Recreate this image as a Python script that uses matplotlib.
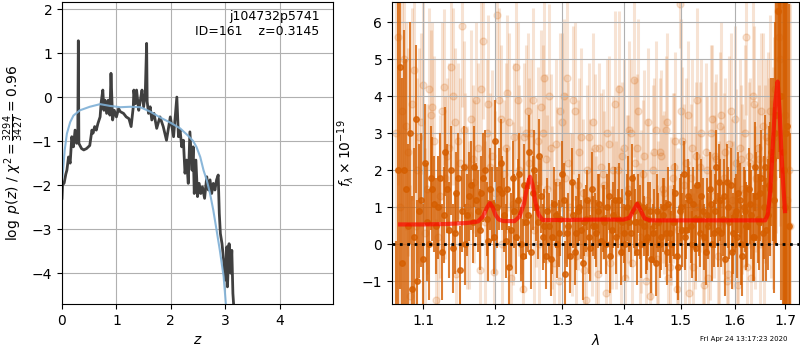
import numpy as np
import matplotlib
matplotlib.use('Agg')
import matplotlib.pyplot as plt
from matplotlib.ticker import NullLocator, FixedLocator, FixedFormatter

# p(z) curve (noisy) and smooth curve
z_pz = [0.00, 0.01, 0.04, 0.07, 0.09, 0.12, 0.15, 0.18, 0.21, 0.24,
        0.27, 0.29, 0.30, 0.31, 0.33, 0.36, 0.40, 0.45, 0.51, 0.55,
        0.57, 0.60, 0.63, 0.66, 0.70, 0.72, 0.75, 0.77, 0.79, 0.82,
        0.85, 0.88, 0.90, 0.93, 0.96, 1.00, 1.04, 1.07, 1.13, 1.18,
        1.23, 1.27, 1.31, 1.32, 1.35, 1.37, 1.41, 1.44, 1.47, 1.50,
        1.53, 1.555, 1.565, 1.59, 1.62, 1.65, 1.69, 1.74, 1.80, 1.86,
        1.92, 1.99, 2.05, 2.11, 2.14, 2.17, 2.20, 2.23, 2.26, 2.29,
        2.32, 2.35, 2.39, 2.41, 2.43, 2.46, 2.49, 2.52, 2.55, 2.58,
        2.62, 2.66, 2.69, 2.72, 2.75, 2.78, 2.81, 2.84, 2.87, 2.89,
        2.91, 2.94, 2.97, 3.00, 3.03, 3.04, 3.07, 3.10, 3.12, 3.14,
        3.16]
logp = [-2.30, -2.00, -1.95, -1.75, -1.66, -1.36, -1.50, -0.90, -1.13, -0.75,
        -1.05, -0.90, 1.28, -1.05, -1.10, -1.17, -1.20, -1.17, -1.10, -0.75,
        -0.82, -0.67, -0.75, -0.60, -0.45, -0.12, 0.16, -0.30, -0.07, -0.37,
        -0.07, -0.41, 0.54, -0.52, -0.30, -0.45, -0.26, -0.33, -0.37, -0.45,
        -0.49, -0.67, -0.22, 0.16, -0.15, 0.16, -0.30, -0.07, 0.16, -0.22,
        0.08, 1.22, -0.10, -0.37, -0.22, -0.52, -0.37, -0.71, -0.45, -0.67,
        -0.98, -0.45, -0.90, 0.00, -0.90, -0.75, -1.13, -0.98, -1.73, -1.43,
        -1.96, -0.79, -1.66, -1.13, -2.19, -1.43, -2.26, -1.96, -2.19, -2.04,
        -2.30, -1.81, -2.11, -1.88, -2.19, -1.96, -2.11, -1.88, -1.77, -2.64,
        -3.10, -3.33, -3.70, -4.16, -3.40, -4.31, -3.33, -4.00, -3.48, -4.46,
        -4.84]

z_smooth = [0.0, 0.02, 0.05, 0.09, 0.15, 0.21, 0.33, 0.51, 0.70, 0.88,
            1.07, 1.25, 1.44, 1.62, 1.80, 1.99, 2.17, 2.32, 2.41, 2.47,
            2.54, 2.60, 2.66, 2.72, 2.78, 2.84, 2.90, 2.97, 3.01, 3.05]
logp_smooth = [-1.90, -1.66, -1.20, -0.83, -0.57, -0.42, -0.30, -0.22, -0.16, -0.20,
               -0.23, -0.22, -0.23, -0.33, -0.46, -0.58, -0.71, -0.88, -1.00, -1.13,
               -1.36, -1.66, -1.89, -2.19, -2.57, -3.02, -3.48, -4.08, -4.69, -5.20]

# two wavelength grids (microns)
wave_a = [1.065, 1.070, 1.075, 1.080, 1.085, 1.090, 1.095, 1.100, 1.105, 1.110,
          1.115, 1.120, 1.125, 1.130, 1.135, 1.140, 1.145, 1.150, 1.155, 1.160,
          1.165, 1.170, 1.175, 1.180, 1.185, 1.190, 1.195, 1.200, 1.205, 1.210,
          1.215, 1.220, 1.225, 1.230, 1.235, 1.240, 1.245, 1.250, 1.255, 1.260,
          1.265, 1.270, 1.275, 1.280, 1.285, 1.290, 1.295, 1.300, 1.305, 1.310,
          1.315, 1.320, 1.325, 1.330, 1.335, 1.340, 1.345, 1.350, 1.355, 1.360,
          1.365, 1.370, 1.375, 1.380, 1.385, 1.390, 1.395, 1.400, 1.405, 1.410,
          1.415, 1.420, 1.425, 1.430, 1.435, 1.440, 1.445, 1.450, 1.455, 1.460,
          1.465, 1.470, 1.475, 1.480, 1.485, 1.490, 1.495, 1.500, 1.505, 1.510,
          1.515, 1.520, 1.525, 1.530, 1.535, 1.540, 1.545, 1.550, 1.555, 1.560,
          1.565, 1.570, 1.575, 1.580, 1.585, 1.590, 1.595, 1.600, 1.605, 1.610,
          1.615, 1.620, 1.625, 1.630, 1.635, 1.640, 1.645, 1.650, 1.655, 1.660,
          1.665, 1.670, 1.675, 1.680, 1.685, 1.690, 1.695, 1.700, 1.705, 1.710]
wave_b = [1.0675, 1.0725, 1.0775, 1.0825, 1.0875, 1.0925, 1.0975, 1.1025, 1.1075, 1.1125,
          1.1175, 1.1225, 1.1275, 1.1325, 1.1375, 1.1425, 1.1475, 1.1525, 1.1575, 1.1625,
          1.1675, 1.1725, 1.1775, 1.1825, 1.1875, 1.1925, 1.1975, 1.2025, 1.2075, 1.2125,
          1.2175, 1.2225, 1.2275, 1.2325, 1.2375, 1.2425, 1.2475, 1.2525, 1.2575, 1.2625,
          1.2675, 1.2725, 1.2775, 1.2825, 1.2875, 1.2925, 1.2975, 1.3025, 1.3075, 1.3125,
          1.3175, 1.3225, 1.3275, 1.3325, 1.3375, 1.3425, 1.3475, 1.3525, 1.3575, 1.3625,
          1.3675, 1.3725, 1.3775, 1.3825, 1.3875, 1.3925, 1.3975, 1.4025, 1.4075, 1.4125,
          1.4175, 1.4225, 1.4275, 1.4325, 1.4375, 1.4425, 1.4475, 1.4525, 1.4575, 1.4625,
          1.4675, 1.4725, 1.4775, 1.4825, 1.4875, 1.4925, 1.4975, 1.5025, 1.5075, 1.5125,
          1.5175, 1.5225, 1.5275, 1.5325, 1.5375, 1.5425, 1.5475, 1.5525, 1.5575, 1.5625,
          1.5675, 1.5725, 1.5775, 1.5825, 1.5875, 1.5925, 1.5975, 1.6025, 1.6075, 1.6125,
          1.6175, 1.6225, 1.6275, 1.6325, 1.6375, 1.6425, 1.6475, 1.6525, 1.6575, 1.6625,
          1.6675, 1.6725, 1.6775, 1.6825, 1.6875, 1.6925, 1.6975, 1.7025, 1.7075]

# dark spectrum, grid a
flux_dark = [-3.0, 4.8, 2.0, 0.5, -1.2, 3.4, 0.9, -0.4, 0.6, 1.8,
             1.1, 1.0, -0.2, 2.5, 0.4, -0.1, 1.4, -0.7, 2.1, 0.8,
             1.6, 2.1, 0.9, 1.4, 2.0, 0.1, 1.1, 2.8, 1.5, 1.4,
             0.1, -0.6, 1.8, 0.2, 1.9, -0.3, 0.6, 2.5, 1.4, 1.0,
             2.4, 0.2, -0.3, 0.5, 0.2, 0.8, 0.3, 1.9, -0.8, 0.5,
             1.7, -0.2, 0.9, 0.4, 0.6, 1.2, -0.1, 0.5, 0.3, 1.1,
             0.7, 0.0, 1.3, 0.4, 1.2, 0.7, -0.2, 0.3, 1.0, 0.6,
             1.8, 0.6, 1.1, 0.0, 0.5, 0.2, 0.9, 0.3, -0.5, 0.6,
             0.2, 1.0, -0.2, 0.3, 0.6, 1.4, -0.6, 1.0, 1.9, 0.4,
             1.2, 0.0, 0.7, 1.6, 0.3, 0.9, -0.2, 0.5, 1.1, 0.3,
             2.1, 1.7, 0.3, 1.3, 1.7, 0.6, -0.2, 0.8, 0.2, 1.2,
             -0.3, 0.9, 0.5, 1.1, 0.2, 2.1, 0.7, 1.4, 0.3, 2.1,
             0.8, 1.5, 2.3, 3.0, 6.3, 6.8, 2.5, 1.0, 3.2, -2.0]
err_dark = [3.1, 6.0, 3.8, 2.2, 2.5, 2.0, 1.8, 1.5, 1.6, 1.4,
            1.3, 1.4, 1.3, 1.2, 1.3, 1.2, 1.1, 1.2, 1.1, 1.1,
            1.2, 1.1, 1.1, 1.0, 1.1, 1.1, 1.0, 1.1, 1.1, 1.0,
            1.0, 1.1, 1.0, 1.0, 1.1, 1.0, 1.0, 1.0, 1.0, 0.9,
            1.0, 0.9, 0.9, 0.9, 1.0, 0.9, 0.9, 0.9, 0.9, 0.9,
            0.9, 0.9, 0.9, 0.8, 0.9, 0.8, 0.9, 0.8, 0.9, 0.8,
            0.9, 0.8, 0.9, 0.8, 0.9, 0.8, 0.9, 0.8, 0.9, 0.8,
            0.9, 0.9, 0.8, 0.9, 0.8, 0.9, 0.8, 0.8, 0.9, 0.8,
            0.9, 0.8, 0.9, 0.8, 0.9, 0.8, 0.9, 0.9, 0.9, 0.8,
            0.9, 0.9, 0.9, 0.9, 0.9, 0.9, 0.9, 0.9, 0.9, 0.9,
            1.0, 1.0, 0.9, 1.0, 1.0, 1.0, 1.0, 1.0, 1.1, 1.0,
            1.1, 1.1, 1.1, 1.1, 1.2, 1.2, 1.2, 1.3, 1.3, 1.4,
            1.5, 1.8, 2.2, 3.0, 4.0, 5.0, 6.0, 9.0, 8.0, 5.0]

# dark spectrum, grid b
flux_dark2 = [2.0, -0.5, 1.5, 3.0, 0.2, -1.0, 1.2, 2.2, 0.0, 1.5,
              0.5, 1.8, 0.8, 1.5, 2.0, 0.3, 1.8, 0.9, 0.0, 1.3,
              0.6, 1.2, 0.4, 1.8, 0.7, 1.5, 0.2, 1.0, 2.2, 0.8,
              1.5, 0.4, 0.9, 1.2, 0.0, 1.6, 0.8, -0.2, 2.0, 0.6,
              1.3, 0.5, 0.9, -0.4, 1.1, 0.0, 0.7, 1.2, 0.3, -0.3,
              0.8, 0.3, 1.0, -0.5, 0.7, 0.2, 1.5, 0.5, 0.9, 0.1,
              0.6, 1.0, -0.3, 0.8, 0.2, 1.2, 0.6, 0.0, 1.4, 0.3,
              0.9, -0.2, 0.6, 1.0, 0.1, 0.7, -0.4, 0.5, 0.9, 0.0,
              0.8, 0.3, 1.1, 0.0, 0.6, -0.3, 0.9, 0.4, 0.2, 1.3,
              0.5, 1.1, -0.1, 0.7, 1.3, 0.2, 0.8, 1.5, 0.0, 0.9,
              0.4, 1.2, 0.7, -0.4, 1.0, 1.6, 0.3, 0.9, 1.4, 0.0,
              1.0, 0.5, 1.5, 0.8, 0.2, 1.3, 0.6, 1.8, 1.0, 0.4,
              1.6, 2.5, 1.2, 3.5, 7.0, 4.0, 2.0, 3.0, 0.5]
err_dark2 = [7.0, 5.0, 3.5, 3.0, 2.4, 2.2, 1.8, 1.6, 1.5, 1.4,
             1.3, 1.2, 1.3, 1.2, 1.2, 1.1, 1.2, 1.1, 1.1, 1.2,
             1.1, 1.0, 1.1, 1.2, 1.0, 1.1, 1.0, 1.1, 1.2, 1.0,
             1.1, 1.0, 1.0, 1.1, 1.0, 1.1, 1.0, 1.0, 1.1, 1.0,
             1.0, 1.0, 0.9, 1.0, 1.0, 0.9, 1.0, 1.0, 0.9, 1.0,
             0.9, 1.0, 0.9, 1.0, 0.9, 1.0, 1.0, 0.9, 1.0, 0.9,
             1.0, 0.9, 1.0, 0.9, 1.0, 1.0, 0.9, 1.0, 1.0, 0.9,
             1.0, 0.9, 1.0, 1.0, 0.9, 1.0, 0.9, 1.0, 1.0, 0.9,
             1.0, 0.9, 1.0, 0.9, 1.0, 1.0, 0.9, 1.0, 0.9, 1.0,
             1.0, 1.0, 0.9, 1.0, 1.0, 0.9, 1.0, 1.0, 1.0, 1.0,
             1.0, 1.1, 1.0, 1.0, 1.1, 1.0, 1.1, 1.0, 1.1, 1.1,
             1.1, 1.2, 1.1, 1.2, 1.2, 1.2, 1.3, 1.3, 1.4, 1.4,
             1.6, 2.0, 2.5, 3.5, 4.5, 5.5, 7.0, 8.0, 6.0]

# light spectra (individual beams)
flux_light = [5.6, 3.6, 3.2, -1.4, 4.7, 2.0, 3.3, 0.3, 4.2, 3.7,
              -1.5, 1.3, 4.25, 2.4, 4.8, 3.3, 2.8, 5.9, 2.1, 0.8,
              2.3, 3.9, -0.7, 5.5, 3.0, 2.1, -0.75, 6.2, 3.4, 1.9,
              4.1, -0.9, 2.9, 3.9, 1.2, 2.9, 3.6, 3.0, 0.4, 2.8,
              3.7, 4.5, 1.5, 2.6, -0.5, 1.7, 3.6, 4.0, 4.5, 1.0,
              3.9, -0.3, 2.5, 1.4, -1.5, 2.9, 0.6, 2.6, -0.8, 2.1,
              1.6, 3.0, -0.5, 2.0, 0.8, 4.2, 2.4, -0.9, 1.5, 3.0,
              4.45, 2.6, 0.2, 1.9, -1.0, 3.3, 0.5, 2.5, -0.4, 2.5,
              1.5, 3.1, -0.9, 0.9, 2.1, -1.2, 6.5, 2.8, 0.3, 3.5,
              1.8, -0.6, 2.4, 1.0, 3.0, -1.1, 2.0, 0.5, 3.4, 2.4,
              -0.3, 3.2, 1.2, 2.5, -0.8, 3.6, 0.8, 2.2, -1.1, 2.3,
              1.4, 5.6, 2.4, -0.9, 3.8, 1.8, 2.3, 3.6, 0.2, 2.9,
              2.3, 1.5, 2.9, 3.5, 5.6, 6.5, 3.0, 1.0, 2.0]
err_light = [4.0, 3.0, 2.8, 3.0, 2.6, 2.5, 2.4, 2.3, 2.2, 2.3,
             2.2, 2.2, 2.1, 2.1, 2.2, 2.0, 2.1, 2.2, 2.0, 2.0,
             2.0, 2.1, 2.0, 2.1, 2.0, 2.0, 2.0, 2.2, 2.0, 2.0,
             2.1, 2.0, 2.0, 2.1, 2.0, 2.0, 2.1, 2.0, 2.0, 2.0,
             2.1, 2.1, 2.0, 2.0, 2.0, 2.0, 2.1, 2.1, 2.2, 2.0,
             2.0, 2.0, 2.0, 2.0, 2.0, 2.0, 2.0, 2.0, 2.0, 2.0,
             2.0, 2.0, 2.0, 2.0, 2.0, 2.1, 2.0, 2.0, 2.0, 2.0,
             2.1, 2.0, 2.0, 2.0, 2.0, 2.0, 2.0, 2.0, 2.0, 2.0,
             2.0, 2.0, 2.0, 2.0, 2.0, 2.0, 1.2, 2.0, 2.0, 2.0,
             2.0, 2.0, 2.0, 2.0, 2.0, 2.0, 2.0, 2.0, 2.0, 2.0,
             2.0, 2.0, 2.0, 2.0, 2.0, 2.1, 2.0, 2.0, 2.0, 2.0,
             2.0, 2.1, 2.0, 2.0, 2.1, 2.0, 2.0, 2.1, 2.0, 2.1,
             2.2, 2.4, 2.7, 3.2, 3.6, 4.0, 5.0, 6.0, 7.0]
flux_light2 = [3.0, 1.0, 5.0, 2.5, 3.8, 0.5, 2.9, 4.3, 1.5, 3.5,
               2.8, 0.2, 3.6, 1.8, 2.6, 4.0, -0.8, 2.2, 3.1, 1.0,
               3.4, 1.7, 2.6, 4.2, 0.6, 3.8, 2.4, 1.4, 3.9, 0.0,
               2.6, 3.3, 1.1, 4.8, 2.0, -1.2, 3.0, 2.2, 3.9, 1.6,
               0.0, 3.0, 2.3, 4.0, 1.0, 2.7, -1.0, 3.3, 1.8, 2.2,
               0.8, 3.6, 1.6, 2.9, -0.7, 2.0, 1.2, 3.3, 0.2, 2.6,
               1.9, -1.3, 2.7, 1.0, 3.8, 2.0, 0.4, 2.6, 1.3, 3.1,
               -0.5, 2.2, 3.6, 0.9, 2.4, 1.2, -1.4, 2.0, 3.1, 0.6,
               2.4, 1.4, 3.3, -0.6, 1.8, 2.8, 0.4, 3.6, 1.6, 2.2,
               -1.3, 2.6, 1.0, 3.9, 2.1, 0.2, 2.5, -0.9, 3.0, 1.3,
               2.3, 0.6, 3.5, 1.8, -1.0, 2.7, 1.2, 3.4, 0.1, 2.6,
               1.5, 3.0, -0.6, 2.2, 4.0, 1.0, 2.6, 0.0, 3.2, 1.9,
               2.8, 3.6, 1.8, 4.2, 6.3, 5.0, 2.0, 3.5, 1.2, 0.5]
err_light2 = [4.5, 3.5, 3.0, 2.8, 2.6, 2.5, 2.4, 2.4, 2.3, 2.3,
              2.3, 2.2, 2.4, 2.2, 2.3, 2.4, 2.2, 2.3, 2.4, 2.2,
              2.4, 2.2, 2.3, 2.5, 2.2, 2.4, 2.3, 2.2, 2.5, 2.2,
              2.3, 2.4, 2.2, 2.5, 2.3, 2.2, 2.4, 2.3, 2.5, 2.2,
              2.2, 2.4, 2.3, 2.5, 2.2, 2.3, 2.2, 2.4, 2.3, 2.2,
              2.2, 2.4, 2.3, 2.4, 2.2, 2.3, 2.2, 2.4, 2.2, 2.3,
              2.3, 2.2, 2.4, 2.2, 2.5, 2.3, 2.2, 2.4, 2.2, 2.4,
              2.2, 2.3, 2.5, 2.2, 2.3, 2.2, 2.2, 2.3, 2.4, 2.2,
              2.3, 2.2, 2.4, 2.2, 2.3, 2.4, 2.2, 2.5, 2.2, 2.3,
              2.2, 2.4, 2.2, 2.5, 2.3, 2.2, 2.4, 2.2, 2.4, 2.2,
              2.3, 2.2, 2.5, 2.3, 2.2, 2.4, 2.2, 2.5, 2.2, 2.4,
              2.3, 2.4, 2.2, 2.3, 2.6, 2.2, 2.4, 2.3, 2.5, 2.4,
              2.4, 2.6, 3.0, 3.5, 4.0, 4.5, 5.0, 6.0, 7.0, 6.0]

# best-fit model
wave_model = [1.070, 1.100, 1.130, 1.160, 1.175, 1.182, 1.188, 1.192, 1.196, 1.200,
              1.205, 1.212, 1.228, 1.235, 1.242, 1.247, 1.251, 1.255, 1.259, 1.264,
              1.270, 1.300, 1.350, 1.400, 1.410, 1.417, 1.423, 1.429, 1.436, 1.445,
              1.500, 1.550, 1.600, 1.660, 1.665, 1.670, 1.675, 1.680, 1.685, 1.689,
              1.693, 1.697, 1.700]
flux_model = [0.54, 0.54, 0.55, 0.58, 0.62, 0.75, 1.00, 1.12, 1.00, 0.80,
              0.67, 0.63, 0.63, 0.75, 1.10, 1.60, 1.83, 1.60, 1.15, 0.80,
              0.66, 0.66, 0.67, 0.67, 0.72, 0.93, 1.10, 0.92, 0.70, 0.65,
              0.65, 0.65, 0.65, 0.65, 0.80, 1.40, 2.60, 3.80, 4.40, 3.60,
              2.40, 1.50, 0.90]

wave_ticks = [1.1, 1.2, 1.3, 1.4, 1.5, 1.6, 1.7]
grism_color = (0.835, 0.369, 0.0)

fig = plt.figure(figsize=(8, 3.5), dpi=100)

# p(z)
ax = fig.add_axes([0.0775, 0.1314, 0.3388, 0.8629])
ax.plot(z_pz, logp, color='0.25', lw=2)
ax.plot(z_smooth, logp_smooth, color='#7fb0d6', lw=1.5, alpha=0.9)
ax.set_xlim(0, 4.98)
ax.set_ylim(-4.7, 2.16)
ax.set_xticks([0, 1, 2, 3, 4])
ax.set_xlabel('$z$')
ax.set_ylabel(r'$\log\ p(z)$' + ' / ' + r'$\chi^2=\frac{3294}{3427}=0.96$')
ax.grid()
ax.text(0.95, 0.975, 'j104732p5741\nID=161    z=0.3145', ha='right', va='top',
        transform=ax.transAxes, fontsize=9)

# spectrum
ax2 = fig.add_axes([0.49, 0.1314, 0.5088, 0.8629])
for w, f, e in [(wave_b, flux_light, err_light), (wave_a, flux_light2, err_light2)]:
    ax2.errorbar(w, f, yerr=e, color=grism_color, alpha=0.17, marker='o', ms=5,
                 linestyle='None', elinewidth=2.2, zorder=1)
for w, f, e in [(wave_a, flux_dark, err_dark), (wave_b, flux_dark2, err_dark2)]:
    ax2.errorbar(w, f, yerr=e, color=grism_color, alpha=0.8, marker='o', ms=4,
                 linestyle='None', elinewidth=1.5, zorder=2)
ax2.plot(wave_model, flux_model, color='r', alpha=0.65, lw=3, zorder=3)
ax2.axhline(0, color='k', linestyle=':', lw=2, zorder=4)
ax2.set_xscale('log')
ax2.xaxis.set_major_locator(FixedLocator(wave_ticks))
ax2.xaxis.set_major_formatter(FixedFormatter([str(w) for w in wave_ticks]))
ax2.xaxis.set_minor_locator(NullLocator())
ax2.set_xlim(1.0596, 1.729)
ax2.set_ylim(-1.61, 6.55)
ax2.set_xlabel(r'$\lambda$')
ax2.set_ylabel(r'$f_\lambda\times10^{-19}$')
ax2.grid()

fig.text(0.985, 0.03, 'Fri Apr 24 13:17:23 2020', ha='right', va='center', fontsize=5)

fig.savefig('out.png', dpi=100)
